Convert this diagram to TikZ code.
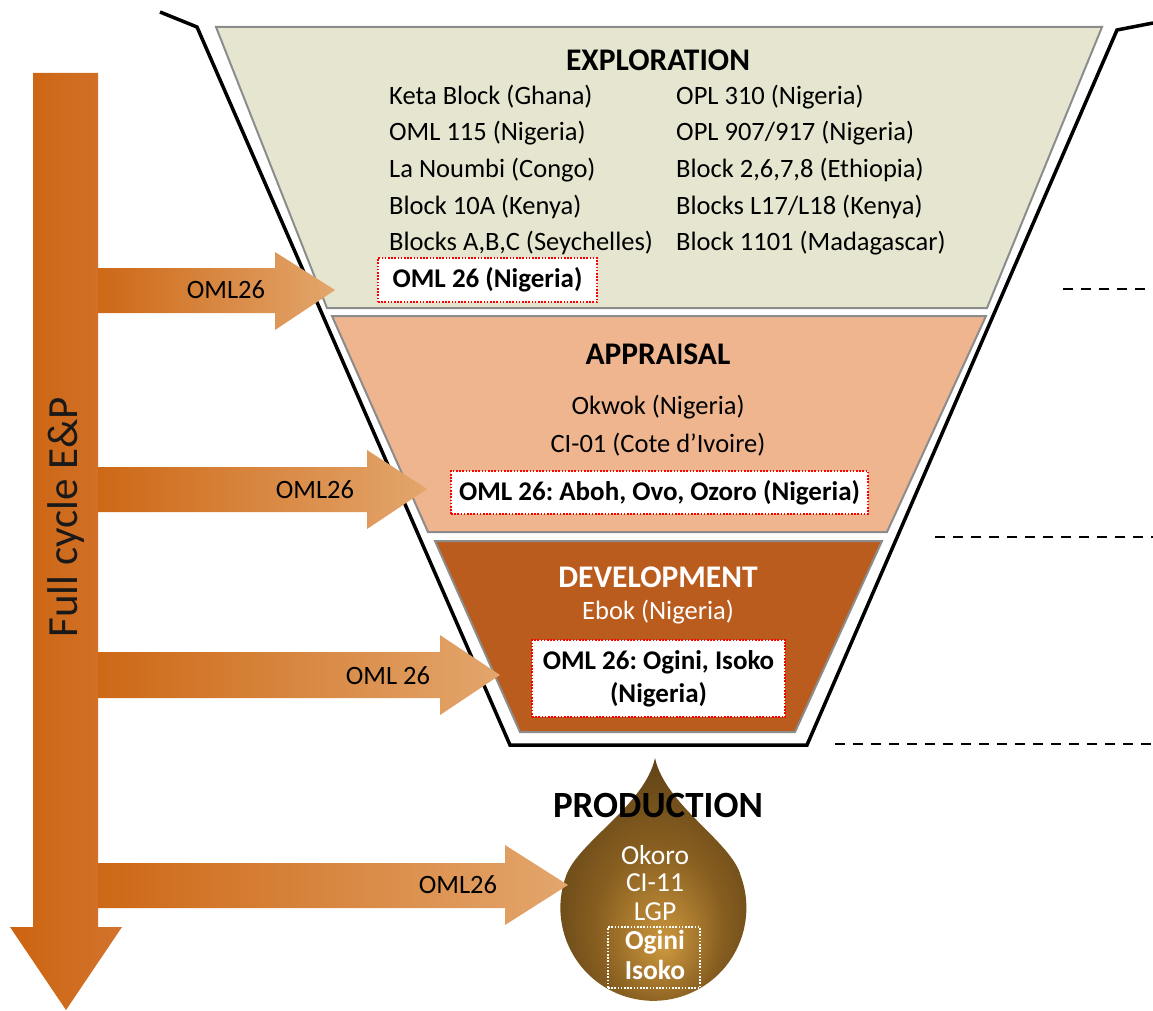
\documentclass[tikz,border=0pt]{standalone}
\usepackage{fontspec}
\setmainfont{Carlito}
\frenchspacing
\definecolor{explfill}{RGB}{230,230,208}
\definecolor{apprfill}{RGB}{238,181,142}
\definecolor{devfill}{RGB}{187,92,31}
\definecolor{edgegray}{RGB}{140,140,140}
\definecolor{arrdark}{RGB}{205,104,22}
\definecolor{arrlight}{RGB}{227,166,108}
\definecolor{vdark}{RGB}{204,100,15}
\definecolor{vlight}{RGB}{210,115,45}
\definecolor{dropin}{RGB}{205,152,62}
\definecolor{dropmid}{RGB}{135,94,32}
\definecolor{dropout}{RGB}{72,50,16}
\pgfdeclareradialshading{dropshade}{\pgfpoint{4bp}{-12bp}}{color(0bp)=(dropin); color(16bp)=(dropmid); color(38bp)=(dropout); color(50bp)=(dropout)}
\begin{document}
\begin{tikzpicture}[x=1pt,y=-1pt,
  stagebox/.style={draw=edgegray, line width=2pt, line join=miter},
  listtxt/.style={inner sep=0pt, anchor=west, font=\fontsize{26.5}{30}\selectfont},
  ctxt/.style={inner sep=0pt, font=\fontsize{26.5}{30}\selectfont},
  titletxt/.style={inner sep=0pt, font=\fontsize{31.5}{34}\selectfont\bfseries},
  redbox/.style={draw=red, fill=white, line width=1.6pt, dash pattern=on 1.6pt off 1.6pt, inner sep=0pt, font=\fontsize{27}{33}\selectfont\bfseries, align=center},
  harrow/.style={left color=arrdark, right color=arrlight, draw=none},
  arrlabel/.style={inner sep=0pt, font=\fontsize{26.5}{30}\selectfont},
  sidedash/.style={draw=black, line width=2.5pt, dash pattern=on 10pt off 8pt},
  droptxt/.style={inner sep=0pt, text=white, font=\fontsize{27.5}{30}\selectfont}
]
\useasboundingbox (0,0) rectangle (1153,1011);

% funnel outline
\draw[line width=3.5pt, line join=miter] (160,12) -- (197,27) -- (510,745) -- (807,745) -- (1117,30) -- (1153,23);

% stages
\path[stagebox, fill=explfill] (216,27) -- (1102,27) -- (987,308) -- (327,308) -- cycle;
\path[stagebox, fill=apprfill] (332,316) -- (986,316) -- (887,532) -- (428,532) -- cycle;
\path[stagebox, fill=devfill] (435,541) -- (882,541) -- (795,732) -- (520,732) -- cycle;

% dashed markers
\coordinate (d1a) at (1063,289); \coordinate (d1b) at (1153,289);
\coordinate (d2a) at (935,537); \coordinate (d2b) at (1153,537);
\coordinate (d3a) at (835,744); \coordinate (d3b) at (1153,744);
\draw[sidedash] (d1a) -- (d1b);
\draw[sidedash] (d2a) -- (d2b);
\draw[sidedash] (d3a) -- (d3b);

% exploration
\node[titletxt] (explT) at (658,60) {EXPLORATION};
\node[listtxt] (e1) at (389,97) {Keta Block (Ghana)};
\node[listtxt] (e2) at (389,133) {OML 115 (Nigeria)};
\node[listtxt] (e3) at (389,170) {La Noumbi (Congo)};
\node[listtxt] (e4) at (389,207) {Block 10A (Kenya)};
\node[listtxt] (e5) at (389,243) {Blocks A,B,C (Seychelles)};
\node[listtxt] (f1) at (676,97) {OPL 310 (Nigeria)};
\node[listtxt] (f2) at (676,133) {OPL 907/917 (Nigeria)};
\node[listtxt] (f3) at (676,170) {Block 2,6,7,8 (Ethiopia)};
\node[listtxt] (f4) at (676,207) {Blocks L17/L18 (Kenya)};
\node[listtxt] (f5) at (676,243) {Block 1101 (Madagascar)};
\node[redbox, minimum width=219pt, minimum height=44pt] (explBox) at (487.5,280) {OML 26 (Nigeria)};

% appraisal
\node[titletxt] (apprT) at (658,354) {APPRAISAL};
\node[ctxt] (a1) at (658,407) {Okwok (Nigeria)};
\node[ctxt] (a2) at (658,445) {CI-01 (Cote d’Ivoire)};
\node[redbox, minimum width=417pt, minimum height=43pt] (apprBox) at (659.5,492.5) {OML 26: Aboh, Ovo, Ozoro (Nigeria)};

% development
\node[titletxt, text=white] (devT) at (658,577) {DEVELOPMENT};
\node[ctxt, text=white] (dv1) at (658,612) {Ebok (Nigeria)};
\node[redbox, minimum width=253pt, minimum height=77pt] (devBox) at (658.5,678.5) {OML 26: Ogini, Isoko\\(Nigeria)};

% production drop
\path[shading=dropshade] (655,758) .. controls (645,805) and (578,842) .. (566,876)
  arc[start angle=200, end angle=-20, radius=93]
  .. controls (732,842) and (665,805) .. (655,758) -- cycle;
\node[inner sep=0pt, font=\fontsize{37}{40}\selectfont\bfseries] (prodT) at (658,805) {PRODUCTION};
\node[droptxt] (p1) at (655,855) {Okoro};
\node[droptxt] (p2) at (655,883) {CI-11};
\node[droptxt] (p3) at (655,912) {LGP};
\node[draw=white, line width=1.6pt, dash pattern=on 1.6pt off 1.6pt, minimum width=92pt, minimum height=61pt, inner sep=0pt] (prodBox) at (654,957.5) {};
\node[droptxt, font=\fontsize{27.5}{30}\selectfont\bfseries] (p4) at (655,942) {Ogini};
\node[droptxt, font=\fontsize{27.5}{30}\selectfont\bfseries] (p5) at (655,970) {Isoko};

% main vertical arrow
\path[left color=vdark, right color=vlight] (33,73) -- (98,73) -- (98,927) -- (122,927) -- (66,1010) -- (10,927) -- (33,927) -- cycle;
\node[inner sep=0pt, rotate=90, text=black!90, font=\fontsize{43}{46}\selectfont] (fc) at (66,517) {Full cycle E\&P};

% branch arrows
\path[harrow] (98,268) -- (275,268) -- (275,252) -- (335,290) -- (275,330) -- (275,313) -- (98,313) -- cycle;
\path[harrow] (98,467) -- (367,467) -- (367,450) -- (427,489) -- (367,529) -- (367,512) -- (98,512) -- cycle;
\path[harrow] (98,652) -- (440,652) -- (440,635) -- (500,675) -- (440,715) -- (440,698) -- (98,698) -- cycle;
\path[harrow] (98,863) -- (505,863) -- (505,845) -- (568,885) -- (505,925) -- (505,908) -- (98,908) -- cycle;
\node[arrlabel] (l1) at (226,290) {OML26};
\node[arrlabel] (l2) at (315,490) {OML26};
\node[arrlabel] (l3) at (388,676) {OML 26};
\node[arrlabel] (l4) at (458,885) {OML26};
\end{tikzpicture}
\end{document}
